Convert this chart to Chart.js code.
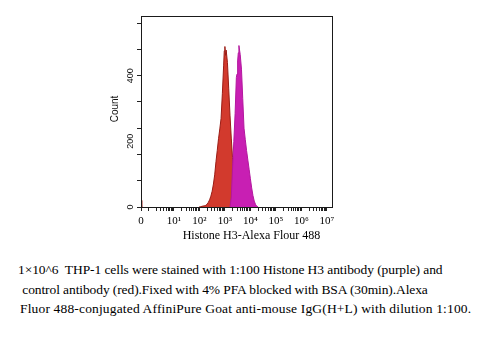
<!DOCTYPE html>
<html>
<head>
<meta charset="utf-8">
<script src="https://cdn.jsdelivr.net/npm/chart.js@4.4.1/dist/chart.umd.min.js"></script>
<style>
  html, body { margin: 0; padding: 0; background: #fff; width: 480px; height: 340px; overflow: hidden; }
  #wrap { position: relative; width: 480px; height: 340px; }
  #c { position: absolute; left: 0; top: 0; }
  .cap { position: absolute; font-family: 'Liberation Serif', 'Times New Roman', serif; font-size: 13.5px;
         line-height: 20px; white-space: pre; color: #000; }
</style>
</head>
<body>
<div id="wrap">
  <canvas id="c" width="480" height="245"></canvas>
  <div class="cap" style="left:18px; top:260px; letter-spacing:-0.08px;">1×10^6  THP-1 cells were stained with 1:100 Histone H3 antibody (purple) and</div>
  <div class="cap" style="left:19px; top:280px; letter-spacing:-0.1px;"> control antibody (red).Fixed with 4% PFA blocked with BSA (30min).Alexa</div>
  <div class="cap" style="left:20px; top:299px; letter-spacing:0.16px;">Fluor 488-conjugated AffiniPure Goat anti-mouse IgG(H+L) with dilution 1:100.</div>
</div>
<script>
// Display axis: decades of fluorescence (1 = 10^1 ... 7 = 10^7); the 0 channel sits left of 10^0.
const ZERO_POS = -0.29;
const AXIS_MAX = 7.2;
const xMajorPos = [ZERO_POS, 1, 2, 3, 4, 5, 6, 7];
const xMajorLabels = ['0', '10¹', '10²', '10³', '10⁴', '10⁵', '10⁶', '10⁷'];

// Count axis
const COUNT_MAX = 582;
const COUNT_STEP = 40;
const yLabelValues = [0, 200, 400];
const yTickLabels = ['0', '200', '400'];

// Control antibody (red) histogram: log10 channel vs events
const redBins = [2.00, 2.05, 2.10, 2.15, 2.20, 2.25, 2.30, 2.35, 2.40, 2.45, 2.50, 2.55, 2.60, 2.65,
                 2.70, 2.75, 2.80, 2.85, 2.90, 2.95, 2.975, 3.00, 3.025, 3.05, 3.10, 3.15, 3.20, 3.25,
                 3.30, 3.35, 3.40, 3.45, 3.50, 3.55, 3.60];
const redCounts = [1, 1, 2, 3, 4, 5, 8, 14, 22, 33, 48, 70, 98, 138,
                   172, 208, 238, 270, 345, 430, 476, 489, 462, 478, 440, 360, 280, 210,
                   150, 92, 46, 18, 6, 2, 0];

// Events piled in the 0 channel of the control
const zeroBins = [ZERO_POS, -0.26];
const zeroCounts = [20, 0];

// Histone H3 antibody (purple) histogram
const purpleBins = [3.20, 3.25, 3.30, 3.35, 3.40, 3.45, 3.475, 3.50, 3.525, 3.55, 3.575, 3.60, 3.65,
                    3.70, 3.75, 3.80, 3.85, 3.90, 3.95, 4.00, 4.05, 4.10, 4.15, 4.20, 4.25, 4.30];
const purpleCounts = [0, 30, 120, 200, 285, 395, 405, 445, 470, 492, 478, 465, 420,
                      330, 240, 205, 172, 143, 115, 86, 58, 35, 18, 8, 2, 0];

const toPoints = (xs, ys) => xs.map((x, i) => ({ x: x, y: ys[i] }));

// Tick marks: zero channel, then 1..9 x 10^k for every decade, up to 10^7
const xTickPos = [ZERO_POS];
for (let k = 0; k < 7; k++) {
  for (let m = 1; m <= 9; m++) xTickPos.push(k + Math.log10(m));
}
xTickPos.push(7);

function xLabel(v) {
  const i = xMajorPos.findIndex(p => Math.abs(p - v) < 1e-6);
  return i >= 0 ? xMajorLabels[i] : '';
}

const yTickPos = [];
for (let v = 0; v <= COUNT_MAX - 20; v += COUNT_STEP) yTickPos.push(v);

// Frame, rotated count labels and axis titles
const axisText = {
  id: 'axisText',
  afterDraw(chart) {
    const { ctx, chartArea: a, scales } = chart;
    ctx.save();
    ctx.strokeStyle = '#1a1a1a';
    ctx.lineWidth = 1;
    ctx.strokeRect(a.left + 0.5, a.top + 0.5, a.right - a.left, a.bottom - a.top);

    ctx.fillStyle = '#111';
    ctx.textAlign = 'center';
    ctx.textBaseline = 'middle';
    ctx.font = '9px "Liberation Sans", Arial, sans-serif';
    yLabelValues.forEach((v, i) => {
      const py = scales.y.getPixelForValue(v);
      ctx.save();
      ctx.translate(a.left - 10, py);
      ctx.rotate(-Math.PI / 2);
      ctx.fillText(yTickLabels[i], 0, 0);
      ctx.restore();
    });

    ctx.font = '10px "Liberation Sans", Arial, sans-serif';
    ctx.save();
    ctx.translate(a.left - 25.5, (a.top + a.bottom) / 2 - 2.5);
    ctx.rotate(-Math.PI / 2);
    ctx.fillText('Count', 0, 0);
    ctx.restore();

    ctx.fillStyle = '#000';
    ctx.font = '12px "Liberation Serif", "Times New Roman", serif';
    ctx.fillText('Histone H3-Alexa Flour 488', a.left + 110.5, a.bottom + 28.5);
    ctx.restore();
  }
};

new Chart(document.getElementById('c'), {
  type: 'line',
  data: {
    datasets: [
      {
        label: 'Histone H3',
        data: toPoints(purpleBins, purpleCounts),
        backgroundColor: '#c81fb3',
        borderColor: '#b3179e',
        borderWidth: 1,
        fill: 'origin',
        pointRadius: 0,
        tension: 0
      },
      {
        label: 'Control',
        data: toPoints(redBins, redCounts),
        backgroundColor: '#d23a2d',
        borderColor: '#9a1b14',
        borderWidth: 1,
        fill: 'origin',
        pointRadius: 0,
        tension: 0
      },
      {
        label: 'Control 0',
        data: toPoints(zeroBins, zeroCounts),
        backgroundColor: '#d23a2d',
        borderColor: '#9a1b14',
        borderWidth: 1,
        fill: 'origin',
        pointRadius: 0,
        tension: 0
      }
    ]
  },
  options: {
    responsive: false,
    animation: false,
    devicePixelRatio: 1,
    layout: { padding: { left: 100, right: 148, top: 16, bottom: 8 } },
    plugins: { legend: { display: false }, tooltip: { enabled: false } },
    scales: {
      x: {
        type: 'linear',
        min: ZERO_POS,
        max: AXIS_MAX,
        afterBuildTicks: (s) => { s.ticks = xTickPos.map(v => ({ value: v })); },
        afterFit: (s) => { s.height = 30; },
        border: { display: false },
        grid: { display: true, drawOnChartArea: false, drawTicks: true, tickLength: 4, color: '#222', lineWidth: 1 },
        ticks: {
          autoSkip: false, maxRotation: 0, minRotation: 0, padding: 4, color: '#000',
          font: { family: 'Liberation Serif', size: 11 },
          callback: (v) => xLabel(v)
        }
      },
      y: {
        type: 'linear',
        min: 0,
        max: COUNT_MAX,
        afterBuildTicks: (s) => { s.ticks = yTickPos.map(v => ({ value: v })); },
        afterFit: (s) => { s.width = 41; },
        border: { display: false },
        grid: { display: true, drawOnChartArea: false, drawTicks: true, tickLength: 4, color: '#222', lineWidth: 1 },
        ticks: { callback: () => '' }
      }
    }
  },
  plugins: [axisText]
});
</script>
</body>
</html>
